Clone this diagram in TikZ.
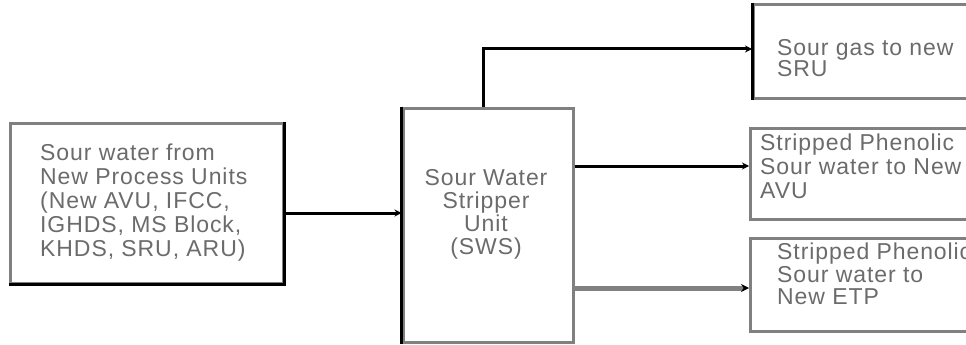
\documentclass[tikz,border=0pt]{standalone}
\usepackage{fontspec}
\setmainfont{Liberation Sans}[LetterSpace=4]
\usetikzlibrary{arrows.meta}
\definecolor{edgegray}{gray}{0.5}
\definecolor{txtgray}{gray}{0.42}
\tikzset{
  box/.style={draw=edgegray, line width=3pt, rectangle, inner sep=0pt},
  txt/.style={inner sep=0pt, text=txtgray, font=\fontsize{23}{24}\selectfont},
  flow/.style={line width=3pt, draw=black, -{Stealth[length=7pt,width=7pt]}},
  grayflow/.style={line width=5pt, draw=edgegray, -{Stealth[length=8pt,width=8pt,color=black]}},
  blackside/.style={line width=3pt, draw=black}
}
\begin{document}
\begin{tikzpicture}[x=1pt,y=-1pt]
\useasboundingbox (0,0) rectangle (966,345);
\clip (0,0) rectangle (966,345);
% boxes
\node[box, minimum width=273pt, minimum height=160pt] (feed) at (146.5,203) {};
\node[box, minimum width=170pt, minimum height=234pt] (sws) at (488,225) {};
\node[box, minimum width=260pt, minimum height=93pt, anchor=west] (gas) at (752,51.5) {};
\node[box, minimum width=260pt, minimum height=91pt, anchor=west] (mid) at (749,173.5) {};
\node[box, minimum width=260pt, minimum height=93pt, anchor=west] (etp) at (749,284.5) {};
% black sides
\draw[blackside] (feed.north east) -- (feed.south east) -- (feed.south west);
\draw[blackside] (sws.north west) -- (sws.south west);
\draw[blackside] (gas.north west) -- (gas.south west);
% texts
\node[txt, align=left, anchor=west] (feedtxt) at (40,203) {Sour water from\\New Process Units\\(New AVU, IFCC,\\IGHDS, MS Block,\\KHDS, SRU, ARU)};
\node[txt, align=center, font=\fontsize{23}{23}\selectfont] (swstxt) at (486,214) {Sour Water\\Stripper\\Unit\\(SWS)};
\node[txt, align=left, anchor=west, font=\fontsize{23}{21}\selectfont] (gastxt) at (777,58) {Sour gas to new\\SRU};
\node[txt, align=left, anchor=west] (midtxt) at (760,166) {Stripped Phenolic\\Sour water to New\\AVU};
\node[txt, align=left, anchor=west, font=\fontsize{23}{22.5}\selectfont] (etptxt) at (777,274) {Stripped Phenolic\\Sour water to\\New ETP};
% connector end points
\coordinate (feedout) at ([yshift=-10pt]feed.east);
\coordinate (gasin) at ([yshift=2.5pt]gas.west);
\coordinate (midin) at ([yshift=7.5pt]mid.west);
\coordinate (etpin) at ([yshift=-3.5pt]etp.west);
\coordinate (swstop) at ([xshift=-5pt]sws.north);
% connectors
\draw[flow] (feedout) -- (sws.west |- feedout);
\draw[flow] (swstop) |- (gasin);
\draw[flow] (sws.east |- midin) -- (midin);
\draw[grayflow] (sws.east |- etpin) -- (etpin);
\end{tikzpicture}
\end{document}
